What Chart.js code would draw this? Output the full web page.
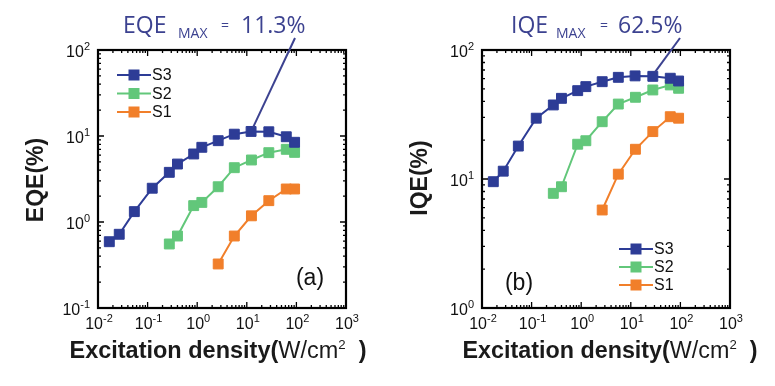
<!DOCTYPE html>
<html><head><meta charset="utf-8">
<script src="https://cdn.jsdelivr.net/npm/chart.js@4.4.0/dist/chart.umd.min.js"></script>
<style>
html,body{margin:0;padding:0;background:#fff;}
#wrap{position:relative;width:775px;height:386px;overflow:hidden;}
canvas{position:absolute;left:0;top:0;}
</style></head><body>
<div id="wrap"><canvas id="c1" width="775" height="386" style="width:775px;height:386px"></canvas><canvas id="c2" width="775" height="386" style="width:775px;height:386px"></canvas></div>
<script>
// ---- data (excitation density W/cm^2, efficiency %) ----
const s3X = [0.0169, 0.0268, 0.0540, 0.124, 0.274, 0.400, 0.850, 1.24, 2.65, 5.6, 12.2, 27.8, 62.5, 92];
const s2X = [0.274, 0.400, 0.850, 1.24, 2.65, 5.6, 12.4, 27.8, 62.5, 92];
const s1X = [2.65, 5.6, 12.4, 27.8, 62.5, 92];

const eqeS3 = [0.59, 0.72, 1.32, 2.47, 3.78, 4.72, 6.18, 7.39, 8.82, 10.5, 11.3, 11.2, 9.8, 8.45];
const eqeS2 = [0.555, 0.687, 1.55, 1.69, 2.57, 4.28, 5.26, 6.4, 7.0, 6.45];
const eqeS1 = [0.325, 0.687, 1.18, 1.77, 2.42, 2.42];

const iqeS3 = [9.53, 11.5, 18.0, 29.6, 37.5, 42.2, 48.4, 52.0, 56.8, 61.4, 63.0, 62.5, 60.4, 57.5];
const iqeS2 = [7.74, 8.71, 18.6, 19.8, 27.8, 38.1, 43.0, 49.0, 53.6, 50.5];
const iqeS1 = [5.75, 10.9, 17.0, 23.3, 30.4, 29.6];

const seriesNames = ['S3', 'S2', 'S1'];
const xTickExps = [-2, -1, 0, 1, 2, 3];
const eqeTickExps = [-1, 0, 1, 2];
const iqeTickExps = [0, 1, 2];

const COLORS = {S3: '#2d3c96', S2: '#62c77a', S1: '#f17f2a'};
const NAVY = '#3c4290';

function pts(xs, ys) { return xs.map((x, i) => ({x: x, y: ys[i]})); }
function ds(name, xs, ys) {
  const c = COLORS[name];
  return {label: name, data: pts(xs, ys), borderColor: c, backgroundColor: c,
    borderWidth: 2, pointStyle: 'rect', pointRadius: 7, pointBorderWidth: 1,
    pointBorderColor: c, pointBackgroundColor: c, tension: 0, clip: false};
}

function drawSup(ctx, base, exp, x, y, align, bf, ef, rise) {
  ctx.font = bf; const wb = ctx.measureText(base).width;
  ctx.font = ef; const we = ctx.measureText(exp).width;
  let x0 = align === 'right' ? x - wb - we : (align === 'center' ? x - (wb + we) / 2 : x);
  ctx.textAlign = 'left'; ctx.textBaseline = 'alphabetic';
  ctx.font = bf; ctx.fillText(base, x0, y);
  ctx.font = ef; ctx.fillText(exp, x0 + wb, y - rise);
}
function expStr(e) { return e < 0 ? '-' + (-e) : String(e); }

const framePlugin = {
  id: 'frame',
  afterDatasetsDraw(chart, args, o) {
    const ctx = chart.ctx, a = chart.chartArea, xs = chart.scales.x, ys = chart.scales.y;
    ctx.save();
    ctx.fillStyle = '#000'; ctx.strokeStyle = '#000';
    // ticks (inward, all four sides)
    ctx.lineWidth = 1.3;
    ctx.beginPath();
    const xe = o.xExps, ye = o.yExps;
    for (let k = xe[0]; k <= xe[xe.length - 1]; k++) {
      for (let m = 1; m <= 9; m++) {
        if (k === xe[xe.length - 1] && m > 1) break;
        const p = xs.getPixelForValue(m * Math.pow(10, k));
        const L = m === 1 ? 6 : 3;
        ctx.moveTo(p, a.bottom); ctx.lineTo(p, a.bottom - L);
        ctx.moveTo(p, a.top); ctx.lineTo(p, a.top + L);
      }
    }
    for (let k = ye[0]; k <= ye[ye.length - 1]; k++) {
      for (let m = 1; m <= 9; m++) {
        if (k === ye[ye.length - 1] && m > 1) break;
        const p = ys.getPixelForValue(m * Math.pow(10, k));
        const L = m === 1 ? 6 : 3;
        ctx.moveTo(a.left, p); ctx.lineTo(a.left + L, p);
        ctx.moveTo(a.right, p); ctx.lineTo(a.right - L, p);
      }
    }
    ctx.stroke();
    // frame
    ctx.lineWidth = 2.2;
    ctx.strokeRect(a.left, a.top, a.right - a.left, a.bottom - a.top);
    // tick labels
    ctx.fillStyle = '#111';
    const bf = '16px "Liberation Sans", Arial, sans-serif', ef = '11px "Liberation Sans", Arial, sans-serif';
    xe.forEach(e => drawSup(ctx, '10', expStr(e), xs.getPixelForValue(Math.pow(10, e)) + 1, a.bottom + 21, 'center', bf, ef, 7));
    ye.forEach(e => drawSup(ctx, '10', expStr(e), a.left - 8, ys.getPixelForValue(Math.pow(10, e)) + 7, 'right', bf, ef, 7));
    // x title
    ctx.fillStyle = '#1a1a1a';
    const B = 'bold 23px "Liberation Sans", Arial, sans-serif', R = '23px "Liberation Sans", Arial, sans-serif', S = '13px "Liberation Sans", Arial, sans-serif';
    const parts = [['Excitation density(', B, 0], ['W/cm', R, 0], ['2', S, 9], ['  ', R, 0], [')', B, 0]];
    let tw = 0; parts.forEach(p => { ctx.font = p[1]; tw += ctx.measureText(p[0]).width; });
    const sx = o.xTitleW / tw;
    ctx.save(); ctx.translate(o.xTitleC - o.xTitleW / 2, 358); ctx.scale(sx, 1);
    let cx = 0; ctx.textAlign = 'left'; ctx.textBaseline = 'alphabetic';
    parts.forEach(p => { ctx.font = p[1]; ctx.fillText(p[0], cx, -p[2]); cx += ctx.measureText(p[0]).width; });
    ctx.restore();
    // y title
    ctx.save(); ctx.translate(o.yTitleX, o.yTitleY); ctx.rotate(-Math.PI / 2);
    ctx.font = B; ctx.textAlign = 'center'; ctx.textBaseline = 'middle';
    ctx.fillText(o.yTitle, 0, 0); ctx.restore();
    // legend
    ctx.lineWidth = 2;
    o.legendRows.forEach((yy, i) => {
      const c = COLORS[seriesNames[i]];
      ctx.strokeStyle = c; ctx.fillStyle = c;
      ctx.beginPath(); ctx.moveTo(o.legendX, yy); ctx.lineTo(o.legendX + 34, yy); ctx.stroke();
      ctx.fillRect(o.legendX + 17 - 5.5, yy - 5.5, 11, 11);
      ctx.fillStyle = '#111'; ctx.font = '16px "Liberation Sans", Arial, sans-serif';
      ctx.textAlign = 'left'; ctx.textBaseline = 'middle';
      ctx.fillText(seriesNames[i], o.legendX + 35, yy + 1);
    });
    // panel letter
    ctx.fillStyle = '#111'; ctx.font = '23px "Liberation Sans", Arial, sans-serif';
    ctx.textAlign = 'center'; ctx.textBaseline = 'alphabetic';
    ctx.fillText(o.letter, o.letterX, o.letterY);
    // annotation
    const mp = o.maxPoint;
    const px = xs.getPixelForValue(mp[0]), py = ys.getPixelForValue(mp[1]);
    ctx.strokeStyle = NAVY; ctx.lineWidth = 2;
    ctx.beginPath(); ctx.moveTo(px + 2, py - 4); ctx.lineTo(o.annEnd[0], o.annEnd[1]); ctx.stroke();
    ctx.fillStyle = NAVY; ctx.textAlign = 'left'; ctx.textBaseline = 'alphabetic';
    const AF = '23px "Open Sans", "Noto Sans", sans-serif', AS = '14px "Open Sans", "Noto Sans", sans-serif';
    const t = o.ann;
    ctx.font = AF; ctx.fillText(t[0], t[1], 33);
    ctx.font = AS; ctx.fillText('MAX', t[2], 38);
    ctx.font = AS; ctx.fillText('=', t[3], 30);
    ctx.font = AF; ctx.fillText(t[4], t[5], 33);
    ctx.restore();
  }
};

function makeChart(id, sets, yMin, yMax, pad, frameOpts) {
  return new Chart(document.getElementById(id), {
    type: 'line',
    data: {datasets: sets},
    options: {
      responsive: false, animation: false, events: [],
      layout: {padding: pad},
      plugins: {legend: {display: false}, tooltip: {enabled: false}, frame: frameOpts},
      scales: {
        x: {type: 'logarithmic', min: 0.01, max: 1000, display: false},
        y: {type: 'logarithmic', min: yMin, max: yMax, display: false}
      }
    },
    plugins: [framePlugin]
  });
}

makeChart('c1', [ds('S3', s3X, eqeS3), ds('S2', s2X, eqeS2), ds('S1', s1X, eqeS1)], 0.1, 100,
  {left: 98, right: 775 - 346, top: 50, bottom: 386 - 308},
  {xExps: xTickExps, yExps: eqeTickExps, xTitleC: 218, xTitleW: 297, yTitle: 'EQE(%)', yTitleX: 37, yTitleY: 180,
   legendX: 117, legendRows: [75, 93.5, 112], letter: '(a)', letterX: 310, letterY: 285,
   maxPoint: [12.2, 11.3], annEnd: [295, 38], ann: ['EQE', 123, 178, 221, '11.3%', 241]});

makeChart('c2', [ds('S3', s3X, iqeS3), ds('S2', s2X, iqeS2), ds('S1', s1X, iqeS1)], 1, 100,
  {left: 482, right: 775 - 730, top: 50, bottom: 386 - 308},
  {xExps: xTickExps, yExps: iqeTickExps, xTitleC: 610, xTitleW: 295, yTitle: 'IQE(%)', yTitleX: 421, yTitleY: 178,
   legendX: 619, legendRows: [249, 267, 285], letter: '(b)', letterX: 519, letterY: 290,
   maxPoint: [27.8, 62.5], annEnd: [680, 38], ann: ['IQE', 511, 556, 600, '62.5%', 618]});
</script>
</body></html>
